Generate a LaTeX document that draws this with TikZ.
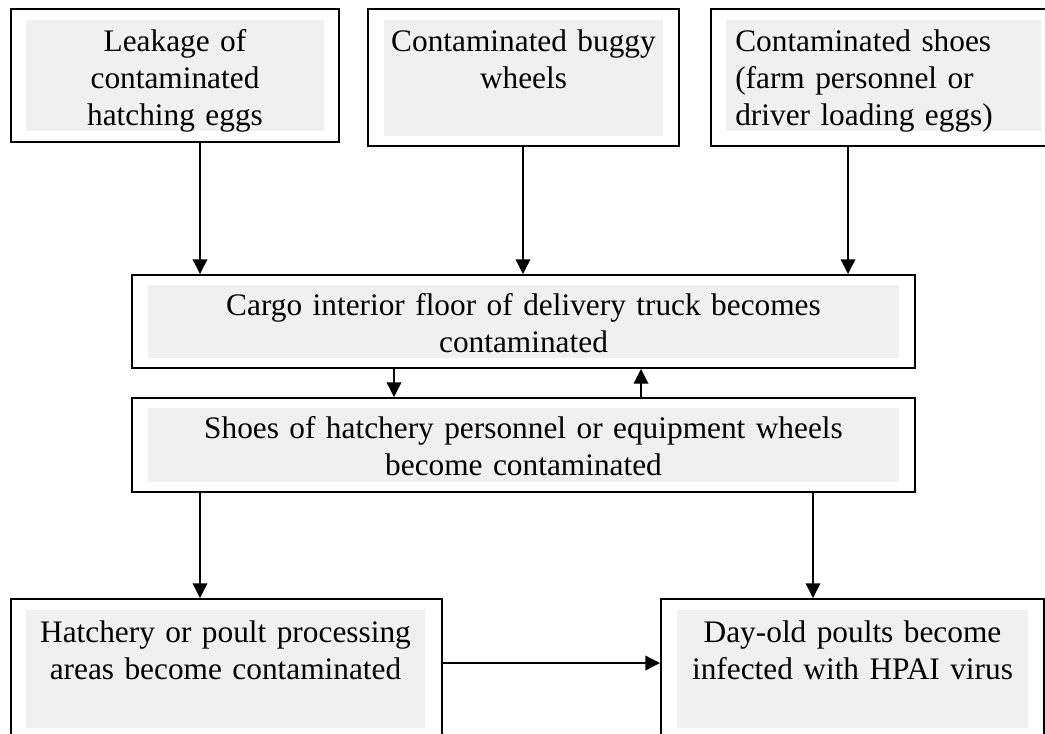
\documentclass[tikz,border=0pt]{standalone}
\usepackage{fontspec}
\setmainfont{Liberation Serif}
\usetikzlibrary{arrows.meta,fit}
\definecolor{panel}{RGB}{240,240,240}
\begin{document}
\begin{tikzpicture}[x=0.75pt,y=-0.75pt,
  box/.style={draw=black,line width=1.5pt,inner sep=0pt},
  lbl/.style={inner sep=0pt,anchor=base,align=center,
    font=\fontsize{23.5}{27.75}\selectfont},
  arr/.style={line width=1pt,-{Triangle[length=11pt,width=11pt]}}]
\useasboundingbox (0,0) rectangle (1045,733);
\clip (0,0) rectangle (1045,733);

% shaded panels behind the labels
\fill[panel] (26,20) rectangle (324,131);
\fill[panel] (384,20) rectangle (663,136);
\fill[panel] (726,20) rectangle (1041,131);
\fill[panel] (148,285) rectangle (899,358);
\fill[panel] (148,408) rectangle (899,482);
\fill[panel] (26,610) rectangle (425,728);
\fill[panel] (677,610) rectangle (1028,728);

% framed boxes
\node[box,fit={(11,9) (339,142)}] (b1) {};
\node[box,fit={(368,9) (679,146)}] (b2) {};
\node[box,fit={(711,9) (1060,146)}] (b3) {};
\node[box,fit={(132,275) (915,368)}] (cargo) {};
\node[box,fit={(132,398) (915,492)}] (shoes) {};
\node[box,fit={(11,599) (442,750)}] (b6) {};
\node[box,fit={(661,599) (1044,750)}] (b7) {};

% labels
\node[lbl,text width=223.5pt] (t1) at (175,51) {Leakage of\\contaminated\\hatching eggs};
\node[lbl,text width=209.25pt] (t2) at (523.5,51) {Contaminated buggy\\wheels};
\node[lbl,text width=236pt,align=left,anchor=base west] (t3) at (735,51)
  {Contaminated shoes\\(farm personnel or\\driver loading eggs)};
\node[lbl,text width=563.25pt] (t4) at (523.5,315)
  {Cargo interior floor of delivery truck becomes\\contaminated};
\node[lbl,text width=563.25pt] (t5) at (523.5,438)
  {Shoes of hatchery personnel or equipment wheels\\become contaminated};
\node[lbl,text width=299.25pt] (t6) at (225.5,642)
  {Hatchery or poult processing\\areas become contaminated};
\node[lbl,text width=263.25pt] (t7) at (852.5,642)
  {Day-old poults become\\infected with HPAI virus};

% connector columns and row
\coordinate (xa) at (200,0);
\coordinate (xb) at (523,0);
\coordinate (xc) at (848,0);
\coordinate (xd) at (394,0);
\coordinate (xe) at (641,0);
\coordinate (xf) at (813,0);
\coordinate (ya) at (0,663);

% connectors
\draw[arr] (b1.south -| xa) -- (cargo.north -| xa);
\draw[arr] (b2.south -| xb) -- (cargo.north -| xb);
\draw[arr] (b3.south -| xc) -- (cargo.north -| xc);
\draw[arr] (cargo.south -| xd) -- (shoes.north -| xd);
\draw[arr] (shoes.north -| xe) -- (cargo.south -| xe);
\draw[arr] (shoes.south -| xa) -- (b6.north -| xa);
\draw[arr] (shoes.south -| xf) -- (b7.north -| xf);
\draw[arr] (b6.east |- ya) -- (b7.west |- ya);
\end{tikzpicture}
\end{document}
